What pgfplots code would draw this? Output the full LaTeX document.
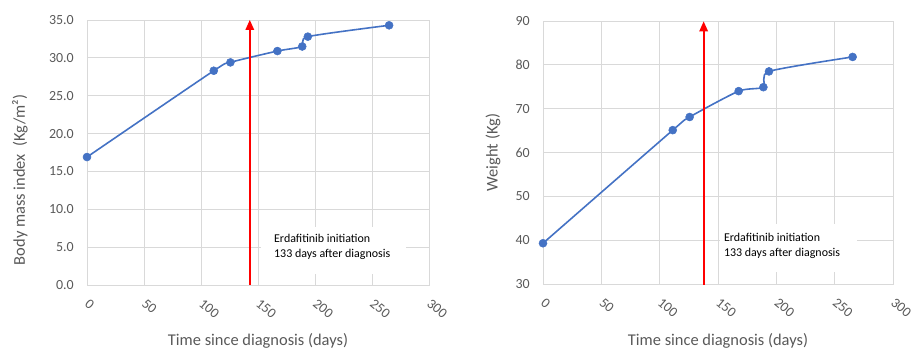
\documentclass[border=0pt]{standalone}
\usepackage{fontspec}
\setmainfont{Carlito}
\usepackage{pgfplots}
\pgfplotsset{compat=1.18}
\definecolor{gridc}{HTML}{D9D9D9}
\definecolor{txt}{HTML}{595959}
\definecolor{ser}{HTML}{4472C4}
\definecolor{arr}{HTML}{FF0000}
\pgfplotsset{
  mystyle/.style={
    scale only axis,
    clip=false,
    xmin=0, xmax=300,
    xtick={0,50,...,300},
    grid=major,
    grid style={draw=gridc, line width=0.8bp},
    axis line style={draw=gridc, line width=0.8bp},
    major tick length=0pt,
    /pgf/number format/assume math mode=true,
    tick label style={font=\fontsize{14}{16}\selectfont, text=txt},
    xticklabel style={xshift=3bp, yshift=-13bp, rotate=-40, anchor=north west, inner sep=0pt},
    yticklabel style={anchor=east, inner sep=0pt, xshift=-13bp},
    label style={font=\fontsize{16.5}{19}\selectfont, text=txt},
  },
  series/.style={color=ser, line width=1.6bp, smooth, tension=0.4, mark=*, mark size=4bp, mark options={fill=ser, draw=ser, line width=0.5bp}},
  arrfill/.style={fill=arr, draw=none, mark=none, forget plot},
}
\begin{document}
\begin{tikzpicture}
\useasboundingbox (0,0) rectangle (914bp,351bp);
\begin{axis}[mystyle,
  at={(87bp,66bp)}, anchor=south west,
  width=342bp, height=265bp,
  ymin=0, ymax=35, ytick={0,5,...,35},
  yticklabel style={/pgf/number format/fixed, /pgf/number format/fixed zerofill, /pgf/number format/precision=1},
  xlabel={Time since diagnosis (days)},
  xlabel style={at={(axis description cs:0.5,0)}, anchor=base, yshift=-60bp},
  ylabel={Body mass index\ \ (Kg/m²)},
  ylabel style={at={(axis description cs:-0.196,0.396)}, anchor=center},
]
\fill[white] (axis cs:153,1.5) rectangle (axis cs:280,7.7);
\node[anchor=west, align=left, inner sep=0pt, font=\fontsize{12}{14.7}\selectfont] at (axis cs:164,5.05) {Erdafitinib initiation\\133 days after diagnosis};
\addplot[series] coordinates {(0,16.9) (111.2,28.3) (125.8,29.4) (167,30.9) (188.8,31.5) (193.7,32.8) (265,34.3)};
\addplot[arrfill] coordinates {(142.0,0) (143.6,0) (143.6,33.8) (142.0,33.8)};
\addplot[arrfill] coordinates {(138.85,33.68) (146.75,33.68) (142.8,35)};
\end{axis}
\begin{axis}[mystyle,
  at={(543bp,67bp)}, anchor=south west,
  width=350bp, height=263bp,
  ymin=30, ymax=90, ytick={30,40,...,90},
  xlabel={Time since diagnosis (days)},
  xlabel style={at={(axis description cs:0.5,0)}, anchor=base, yshift=-61bp},
  ylabel={Weight (Kg)},
  ylabel style={at={(axis description cs:-0.143,0.5)}, anchor=center},
]
\fill[white] (axis cs:152,32.8) rectangle (axis cs:269,43.8);
\node[anchor=west, align=left, inner sep=0pt, font=\fontsize{12}{14.7}\selectfont] at (axis cs:155,38.7) {Erdafitinib initiation\\133 days after diagnosis};
\addplot[series] coordinates {(0,39.3) (111.2,65.1) (125.7,68.1) (167.7,74.0) (188.9,74.9) (193.7,78.5) (265.4,81.8)};
\addplot[arrfill] coordinates {(136.93,29.8) (138.47,29.8) (138.47,88.0) (136.93,88.0)};
\addplot[arrfill] coordinates {(133.84,87.62) (141.56,87.62) (137.7,89.9)};
\end{axis}
\end{tikzpicture}
\end{document}
